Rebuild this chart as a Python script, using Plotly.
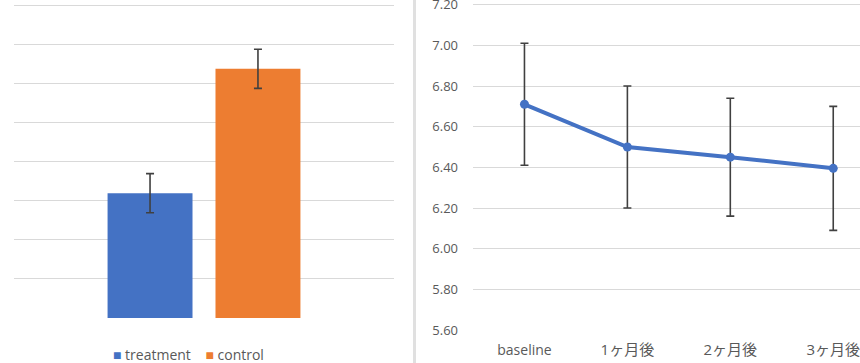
import plotly.graph_objects as go

# Left panel: bar chart
groups = ["treatment", "control"]
bar_values = [3.19, 6.37]
bar_errors = [0.50, 0.50]
bar_colors = ["#4472C4", "#ED7D31"]

# Right panel: line chart
time_points = ["baseline", "1ヶ月後", "2ヶ月後", "3ヶ月後"]
line_values = [6.71, 6.50, 6.45, 6.395]
line_errors = [0.30, 0.30, 0.29, 0.305]
y_ticks = [5.6, 5.8, 6.0, 6.2, 6.4, 6.6, 6.8, 7.0, 7.2]

W, H = 860, 363
fig = go.Figure()

for g, v, e, c in zip(groups, bar_values, bar_errors, bar_colors):
    fig.add_trace(go.Bar(
        x=[""], y=[v], name=g, marker=dict(color=c, line=dict(width=0)),
        error_y=dict(type="data", array=[e], color="#404040", thickness=1.6, width=4),
        xaxis="x", yaxis="y", showlegend=False,
    ))

fig.add_trace(go.Scatter(
    x=time_points, y=line_values, mode="lines+markers",
    line=dict(color="#4472C4", width=4), marker=dict(color="#4472C4", size=9),
    error_y=dict(type="data", array=line_errors, color="#404040", thickness=1.6, width=4),
    xaxis="x2", yaxis="y2", showlegend=False,
))

# tick labels: Japanese labels slightly larger, as in the reference
tick_text = [t if t.isascii() else f'<span style="font-size:15px">{t}</span>' for t in time_points]

# legend drawn as one text line built from the series names/colours
legend_text = "&nbsp;&nbsp;&nbsp;&nbsp;".join(
    f'<span style="color:{c}">■</span>&nbsp;{g}' for g, c in zip(groups, bar_colors)
)

grid = "#D9D9D9"
# left: 39.1 px per unit, top gridline (8) at y=5 -> range top 8.1 at y~1.1
# right: 203.3 px per unit, 7.20 at y=4.7 -> range top 7.22 at y~0.6
fig.update_layout(
    width=W, height=H,
    margin=dict(l=0, r=0, t=0, b=0, autoexpand=False),
    paper_bgcolor="white", plot_bgcolor="white",
    font=dict(family="Open Sans", size=13, color="#595959"),
    barmode="group", bargap=0.432, bargroupgap=0.213,
    showlegend=False,
    xaxis=dict(domain=[14 / W, 394 / W], anchor="y", showticklabels=False,
               showgrid=False, zeroline=False, showline=False, ticks="",
               range=[-0.5, 0.5], automargin=False),
    yaxis=dict(domain=[1 - 318 / H, 1 - 1.1 / H], anchor="x", range=[0, 8.1],
               tickvals=list(range(0, 9)),
               showticklabels=False, showgrid=True, gridcolor=grid, gridwidth=1,
               zeroline=False, showline=False, ticks="", automargin=False),
    xaxis2=dict(domain=[473 / W, 1.0], anchor="y2", type="category",
                range=[-0.5, 3.26], showgrid=False, zeroline=False, showline=False,
                ticks="", ticklabelstandoff=10, automargin=False,
                tickvals=time_points, ticktext=tick_text,
                tickfont=dict(family="Open Sans, Noto Sans CJK JP", size=14, color="#595959")),
    yaxis2=dict(domain=[1 - 330 / H, 1 - 0.6 / H], anchor="x2", range=[5.6, 7.22],
                tickvals=y_ticks, tickformat=".2f", showgrid=True, gridcolor=grid,
                gridwidth=1, zeroline=False, showline=False, ticks="",
                ticklabelstandoff=14, automargin=False, ticklabeloverflow="allow",
                tickfont=dict(family="Open Sans", size=13, color="#595959")),
    annotations=[dict(text=legend_text, xref="paper", yref="paper", x=188 / W,
                      y=1 - 354 / H, xanchor="center", yanchor="middle", showarrow=False,
                      font=dict(family="Open Sans", size=14, color="#595959"))],
    shapes=[dict(type="line", xref="paper", yref="paper", x0=414.5 / W, x1=414.5 / W,
                 y0=0, y1=1, line=dict(color="#E0E0E0", width=3))],
)

fig.write_html("out.html", config={"displayModeBar": False},
               post_script="document.body.style.margin='0';")
